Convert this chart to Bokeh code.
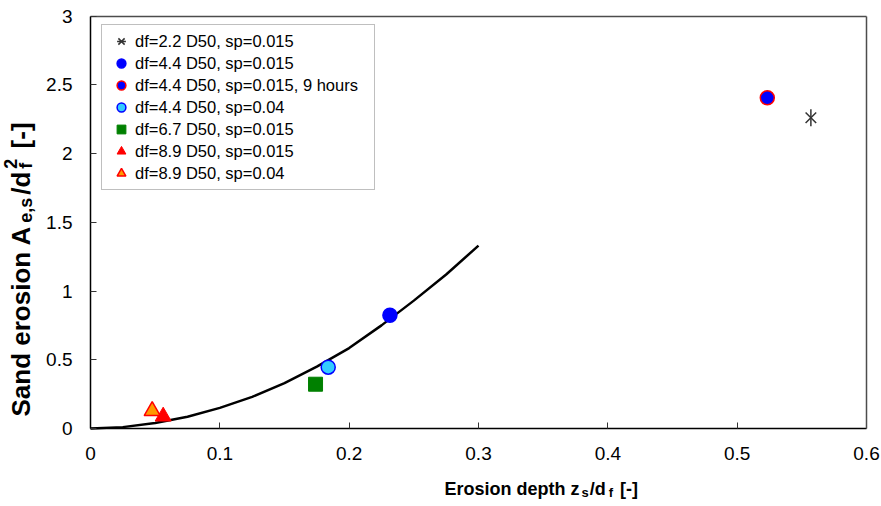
import math
from bokeh.plotting import figure
from bokeh.models import (Range1d, FixedTicker, NumeralTickFormatter, Legend,
                          LegendItem, Label, LinearAxis)
from bokeh.embed import file_html
from bokeh.resources import INLINE

# ---------------- data ----------------
curve_x = [0, 0.025, 0.05, 0.075, 0.1, 0.125, 0.15, 0.175, 0.2, 0.225, 0.25, 0.275, 0.3]
curve_y = [0, 0.01, 0.04, 0.085, 0.15, 0.23, 0.33, 0.45, 0.585, 0.75, 0.93, 1.12, 1.33]

df22_x = [0.557];  df22_y = [2.26]     # df=2.2 D50, sp=0.015
df44_x = [0.2315]; df44_y = [0.824]    # df=4.4 D50, sp=0.015
df44h_x = [0.5233]; df44h_y = [2.405]  # df=4.4 D50, sp=0.015, 9 hours
df44b_x = [0.1838]; df44b_y = [0.446]  # df=4.4 D50, sp=0.04
df67_x = [0.174];  df67_y = [0.322]    # df=6.7 D50, sp=0.015
df89_x = [0.0562]; df89_y = [0.088]    # df=8.9 D50, sp=0.015
df89b_x = [0.0477]; df89b_y = [0.128]  # df=8.9 D50, sp=0.04

series_labels = ["df=2.2 D50, sp=0.015", "df=4.4 D50, sp=0.015",
                 "df=4.4 D50, sp=0.015, 9 hours", "df=4.4 D50, sp=0.04",
                 "df=6.7 D50, sp=0.015", "df=8.9 D50, sp=0.015",
                 "df=8.9 D50, sp=0.04"]

x_ticks = [0, 0.1, 0.2, 0.3, 0.4, 0.5, 0.6]
y_ticks = [0, 0.5, 1, 1.5, 2, 2.5, 3]
x_lim = (0, 0.6)
y_lim = (0, 3)

FONT = "Liberation Sans"

# ---------------- layout (pixels) ----------------
W, H = 881, 506
PL, PR, PT, PB = 90.0, 866.0, 15.5, 428.0   # plot-area edges on the canvas
kx = (PR - PL) / (x_lim[1] - x_lim[0])
ky = (PB - PT) / (y_lim[1] - y_lim[0])

p = figure(width=W, height=H, output_backend="svg", toolbar_location=None,
           x_range=Range1d(x_lim[0] - PL / kx, x_lim[1] + (W - PR) / kx),
           y_range=Range1d(y_lim[0] - (H - PB) / ky, y_lim[1] + PT / ky),
           min_border=0)
p.background_fill_color = "white"
p.border_fill_color = "white"
p.outline_line_color = None
p.xgrid.visible = False
p.ygrid.visible = False

for ax, ticks, lim, loc in ((p.xaxis, x_ticks, x_lim, y_lim[0]),
                            (p.yaxis, y_ticks, y_lim, x_lim[0])):
    ax.fixed_location = loc
    ax.bounds = lim
    ax.ticker = FixedTicker(ticks=ticks)
    ax.formatter = NumeralTickFormatter(format="0.[0]")
    ax.major_tick_in = 6
    ax.major_tick_out = 0
    ax.minor_tick_line_color = None
    ax.axis_line_color = "black"
    ax.axis_line_width = 1.5
    ax.major_tick_line_color = "#333333"
    ax.major_label_text_font = FONT
    ax.major_label_text_font_size = "19px"
    ax.major_label_text_color = "black"
p.xaxis.major_label_standoff = 18
p.yaxis.major_label_standoff = 18

# top and right border of the plot area
top_ax = LinearAxis(fixed_location=y_lim[1], bounds=x_lim, ticker=FixedTicker(ticks=[]),
                    axis_line_color="#4d4d4d", axis_line_width=1.5,
                    major_tick_line_color=None, minor_tick_line_color=None)
right_ax = LinearAxis(fixed_location=x_lim[1], bounds=y_lim, ticker=FixedTicker(ticks=[]),
                      axis_line_color="#4d4d4d", axis_line_width=1.5,
                      major_tick_line_color=None, minor_tick_line_color=None)
p.add_layout(top_ax, "above")
p.add_layout(right_ax, "right")

# fitted curve
p.line(curve_x, curve_y, line_color="black", line_width=2.5)

# data series
r1a = p.scatter(df22_x, df22_y, marker="x", size=15, line_color="#333333", line_width=1.5)
r1b = p.scatter(df22_x, df22_y, marker="dash", angle=math.pi / 2, size=17,
                line_color="#333333", line_width=1.5)
r2 = p.scatter(df44_x, df44_y, marker="circle", size=14, fill_color="#0000FF",
               line_color="#0000FF", line_width=1.5)
r3 = p.scatter(df44h_x, df44h_y, marker="circle", size=14, fill_color="#0000FF",
               line_color="#FF0000", line_width=1.5)
r4 = p.scatter(df44b_x, df44b_y, marker="circle", size=14, fill_color="#33CCFF",
               line_color="#0000FF", line_width=1.5)
r5 = p.scatter(df67_x, df67_y, marker="square", size=14, fill_color="#008000",
               line_color="#008000", line_width=1)
r6 = p.scatter(df89_x, df89_y, marker="triangle", size=16, fill_color="#FF0000",
               line_color="#FF0000", line_width=1)
r7 = p.scatter(df89b_x, df89b_y, marker="triangle", size=16, fill_color="#FF9900",
               line_color="#FF0000", line_width=1.5)

renderers = [[r1a, r1b], [r2], [r3], [r4], [r5], [r6], [r7]]
legend = Legend(items=[LegendItem(label=l, renderers=r) for l, r in zip(series_labels, renderers)],
                location=(101, H - 190), padding=5, spacing=0,
                glyph_width=28, glyph_height=22, label_height=22, label_width=234,
                label_standoff=0,
                label_text_font=FONT, label_text_font_size="16.5px",
                label_text_color="black",
                border_line_color="#808080", border_line_width=1,
                background_fill_color="white", background_fill_alpha=1)
p.add_layout(legend)

# ---------------- axis titles with sub/superscripts ----------------
AB = {' ': 278, ',': 278, '-': 333, '.': 278, '/': 278, '[': 333, ']': 333,
      '0': 556, '1': 556, '2': 556, '5': 556,
      'A': 722, 'E': 667, 'S': 667,
      'a': 556, 'd': 611, 'e': 556, 'f': 333, 'h': 611, 'i': 278, 'n': 611,
      'o': 611, 'p': 611, 'r': 389, 's': 556, 't': 333, 'z': 500}


def tw(s, size):
    return sum(AB.get(c, 556) for c in s) * size / 1000.0


def add_piece(text, x, y, size, angle=0.0):
    # x, y: canvas pixels from the top-left corner
    p.add_layout(Label(x=x, y=H - y, x_units="screen", y_units="screen", text=text,
                       angle=angle, text_font=FONT, text_font_style="bold",
                       text_font_size=f"{size}px", text_color="black",
                       text_align="left", text_baseline="alphabetic"))


# x title: "Erosion depth z_s/d_f [-]"
XM, XS = 18, 13
base = 488.0
cx = 444.0
add_piece("Erosion depth z", cx, base, XM); cx += tw("Erosion depth z", XM) + 2
add_piece("s", cx, base + 4, XS); cx += tw("s", XS) + 1
add_piece("/d", cx, base, XM); cx += tw("/d", XM) + 3
add_piece("f", cx, base + 4, XS); cx += tw("f", XS) + tw(" ", XM) + 2
add_piece("[-]", cx, base, XM)

# y title: "Sand erosion A_{e,s}/d_f^2 [-]" (rotated, reading upwards)
YM, YS = 26, 18
bx, cy = 20.0, 416.0
R = math.pi / 2
add_piece("Sand erosion A", bx, cy, YM, R); cy -= tw("Sand erosion A", YM) + 3
add_piece("e,s", bx + 5, cy, YS, R); cy -= tw("e,s", YS) + 3
add_piece("/d", bx, cy, YM, R); cy -= tw("/d", YM) + 3
add_piece("f", bx + 5, cy, YS, R)
add_piece("2", bx - 10, cy, YS, R); cy -= tw("2", YS) + tw(" ", YM) + 3
add_piece("[-]", bx, cy, YM, R)

open("out.html", "w").write(file_html(p, INLINE))
